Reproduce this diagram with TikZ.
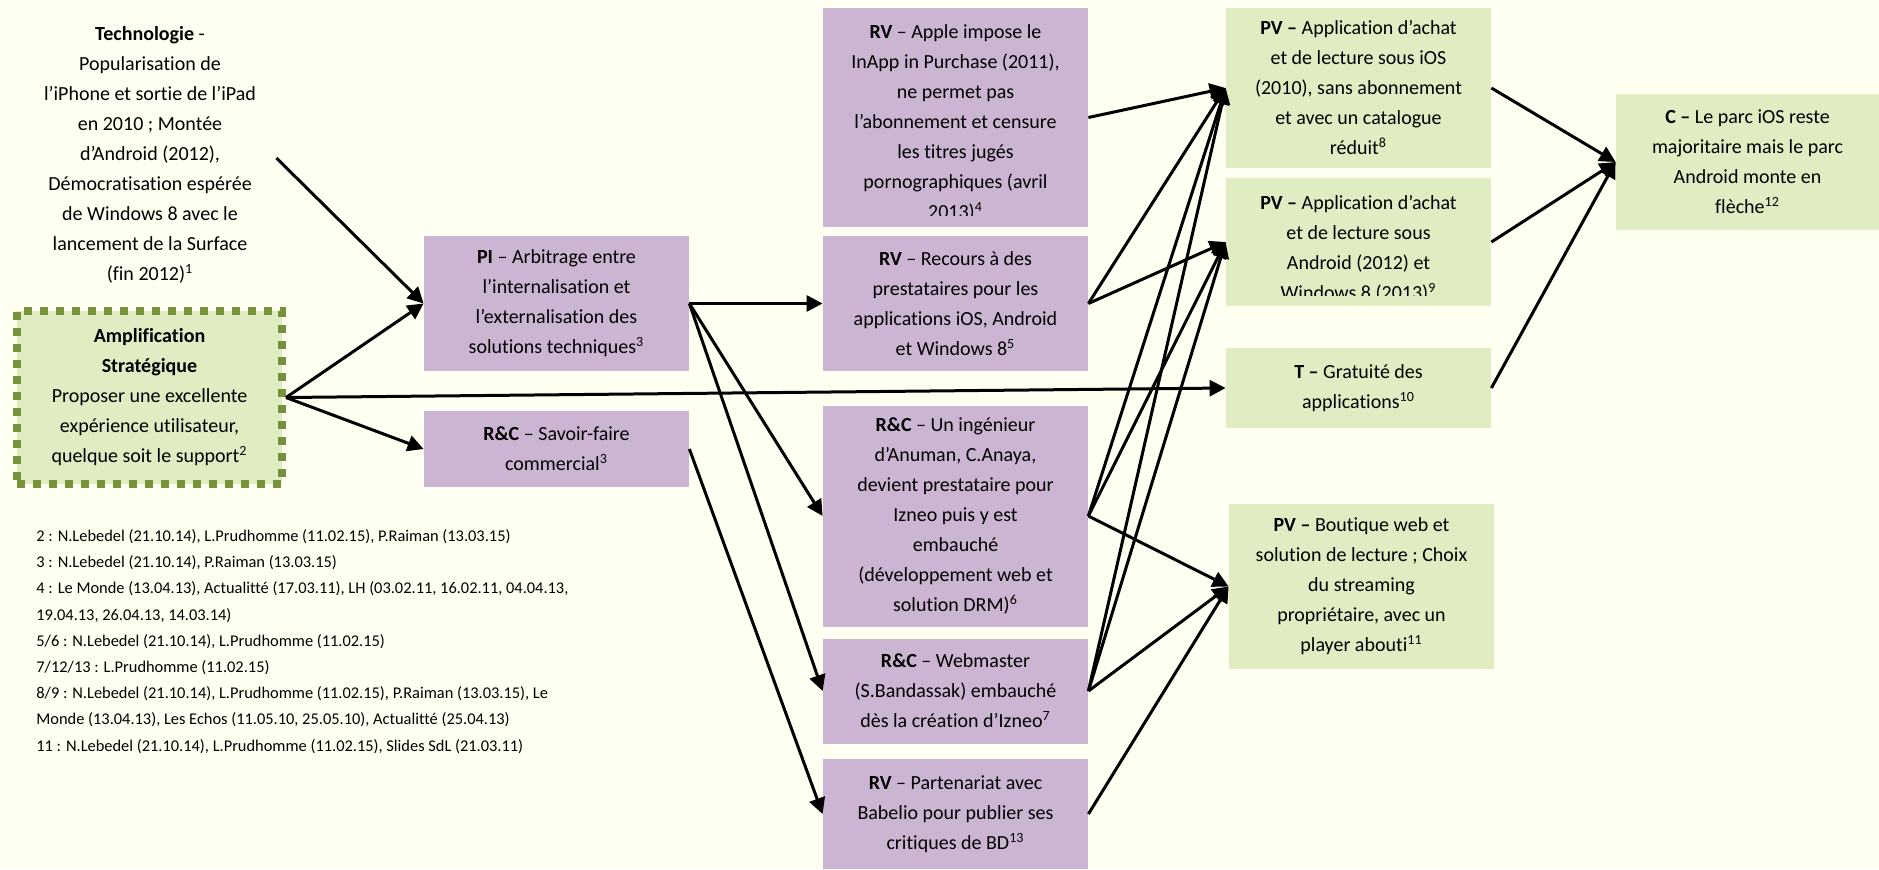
\documentclass[tikz,border=0pt]{standalone}
\usepackage{fontspec}
\setmainfont{Carlito}[Ligatures=NoCommon]
\usetikzlibrary{arrows.meta}
\definecolor{bgcol}{RGB}{255,255,242}
\definecolor{lilac}{RGB}{204,181,210}
\definecolor{lgreen}{RGB}{224,236,194}
\definecolor{olivebd}{RGB}{119,147,60}
\begin{document}
\begin{tikzpicture}[x=0.5pt,y=-0.5pt,
  txt/.style={font=\fontsize{10}{15}\selectfont, align=center, inner sep=0pt},
  pbox/.style={txt, fill=lilac, minimum width=132.5pt},
  gbox/.style={txt, fill=lgreen, minimum width=132.5pt},
  conn/.style={line width=1.5pt, -{Triangle[length=8pt,width=8pt]}},
  notes/.style={font=\fontsize{8.2}{13.1}\selectfont, align=left, inner sep=0pt}
]
\fill[bgcol] (0,0) rectangle (1879,869);
\useasboundingbox (0,0) rectangle (1879,869);

% left column
\node[txt] (tech) at (150,155) {\textbf{Technologie} -\\Popularisation de\\l’iPhone et sortie de l’iPad\\en 2010 ; Montée\\d’Android (2012),\\Démocratisation espérée\\de Windows 8 avec le\\lancement de la Surface\\(fin 2012)\textsuperscript{1}};
\node[txt, fill=lgreen, draw=olivebd, line width=4pt, dash pattern=on 4pt off 4pt,
      minimum width=132.5pt, minimum height=86.5pt] (amp) at (149.5,397.5)
  {\textbf{Amplification}\\\textbf{Stratégique}\\Proposer une excellente\\expérience utilisateur,\\quelque soit le support\textsuperscript{2}};

\node[notes, anchor=north west] (fn) at (36,529) {2 : N.Lebedel (21.10.14), L.Prudhomme (11.02.15), P.Raiman (13.03.15)\\
3 : N.Lebedel (21.10.14), P.Raiman (13.03.15)\\
4 : Le Monde (13.04.13), Actualitté (17.03.11), LH (03.02.11, 16.02.11, 04.04.13,\\
19.04.13, 26.04.13, 14.03.14)\\
5/6 : N.Lebedel (21.10.14), L.Prudhomme (11.02.15)\\
7/12/13 : L.Prudhomme (11.02.15)\\
8/9 : N.Lebedel (21.10.14), L.Prudhomme (11.02.15), P.Raiman (13.03.15), Le\\
Monde (13.04.13), Les Echos (11.05.10, 25.05.10), Actualitté (25.04.13)\\
11 : N.Lebedel (21.10.14), L.Prudhomme (11.02.15), Slides SdL (21.03.11)};

% second column
\node[pbox, minimum height=67.5pt] (pi) at (556.5,303.5) {\textbf{PI} – Arbitrage entre\\l’internalisation et\\l’externalisation des\\solutions techniques\textsuperscript{3}};
\node[pbox, minimum height=38pt] (rcsav) at (556.5,449) {\textbf{R\&C} – Savoir-faire\\commercial\textsuperscript{3}};

% third column
\node[pbox, minimum height=109.5pt] (rvapple) at (955.5,117.5) {};
\begin{scope}
\clip (823,8) rectangle (1088,215);
\node[txt] (rvappletxt) at (955.5,123) {\textbf{RV} – Apple impose le\\InApp in Purchase (2011),\\ne permet pas\\l’abonnement et censure\\les titres jugés\\pornographiques (avril\\2013)\textsuperscript{4}};
\end{scope}
\node[pbox, minimum height=67.5pt] (rvrec) at (955.5,303.5) {\textbf{RV} – Recours à des\\prestataires pour les\\applications iOS, Android\\et Windows 8\textsuperscript{5}};
\node[pbox, minimum height=110.5pt] (rcing) at (955.5,516) {\textbf{R\&C} – Un ingénieur\\d’Anuman, C.Anaya,\\devient prestataire pour\\Izneo puis y est\\embauché\\(développement web et\\solution DRM)\textsuperscript{6}};
\node[pbox, minimum height=52.5pt] (rcweb) at (955.5,691) {\textbf{R\&C} – Webmaster\\(S.Bandassak) embauché\\dès la création d’Izneo\textsuperscript{7}};
\node[pbox, minimum height=55pt] (rvbab) at (955.5,814) {\textbf{RV} – Partenariat avec\\Babelio pour publier ses\\critiques de BD\textsuperscript{13}};

% fourth column
\node[gbox, minimum height=80pt] (pv1) at (1358.5,88) {\textbf{PV –} Application d’achat\\et de lecture sous iOS\\(2010), sans abonnement\\et avec un catalogue\\réduit\textsuperscript{8}};
\node[gbox, minimum height=64pt] (pv2) at (1358.5,242) {};
\begin{scope}
\clip (1226,178) rectangle (1491,295);
\node[txt] (pv2txt) at (1358.5,249) {\textbf{PV –} Application d’achat\\et de lecture sous\\Android (2012) et\\Windows 8 (2013)\textsuperscript{9}};
\end{scope}
\node[gbox, minimum height=40pt] (t) at (1358.5,388) {\textbf{T –} Gratuité des\\applications\textsuperscript{10}};
\node[gbox, minimum height=82.5pt] (pvb) at (1361.5,586.5) {\textbf{PV –} Boutique web et\\solution de lecture ; Choix\\du streaming\\propriétaire, avec un\\player abouti\textsuperscript{11}};

% fifth column
\node[gbox, minimum width=131.5pt, minimum height=68pt] (c) at (1747.5,162) {\textbf{C –} Le parc iOS reste\\majoritaire mais le parc\\Android monte en\\flèche\textsuperscript{12}};

% connectors
\draw[conn] ([xshift=10pt,yshift=-1.5pt]tech.east) -- (pi.west);
\draw[conn] (amp.east) -- (pi.west);
\draw[conn] (amp.east) -- (rcsav.west);
\draw[conn] (amp.east) -- (t.west);
\draw[conn] (pi.east) -- (rvrec.west);
\draw[conn] (pi.east) -- (rcing.west);
\draw[conn] (pi.east) -- (rcweb.west);
\draw[conn] (rcsav.east) -- (rvbab.west);
\draw[conn] (rvapple.east) -- (pv1.west);
\draw[conn] (rvrec.east) -- (pv1.west);
\draw[conn] (rvrec.east) -- (pv2.west);
\draw[conn] (rcing.east) -- (pv1.west);
\draw[conn] (rcing.east) -- (pv2.west);
\draw[conn] (rcing.east) -- (pvb.west);
\draw[conn] (rcweb.east) -- (pv1.west);
\draw[conn] (rcweb.east) -- (pv2.west);
\draw[conn] (rcweb.east) -- (pvb.west);
\draw[conn] (rvbab.east) -- (pvb.west);
\draw[conn] (pv1.east) -- (c.west);
\draw[conn] (pv2.east) -- (c.west);
\draw[conn] (t.east) -- (c.west);
\end{tikzpicture}
\end{document}
